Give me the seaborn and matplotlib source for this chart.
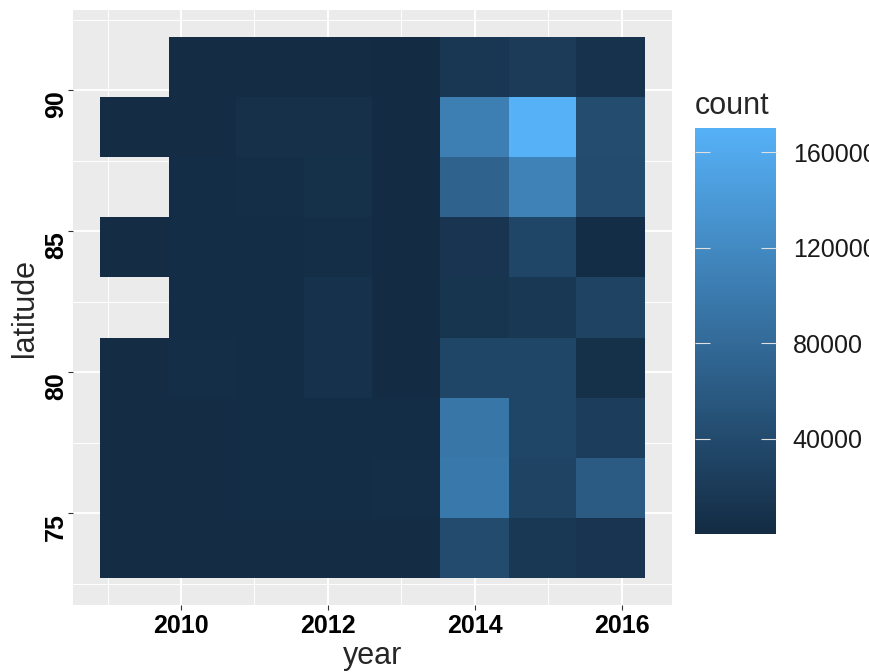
import numpy as np
import pandas as pd
import matplotlib
matplotlib.use("Agg")
import matplotlib.pyplot as plt
import seaborn as sns
from matplotlib.colors import LinearSegmentedColormap

# bin edges (8 year bins x 9 latitude bins)
year_edges = [2008.90, 2009.83, 2010.75, 2011.68, 2012.60, 2013.53, 2014.46, 2015.38, 2016.31]
lat_edges = [72.70, 74.83, 76.96, 79.09, 81.22, 83.36, 85.49, 87.62, 89.75, 91.88]

# counts per cell, rows from top (north) to bottom, columns 2009 -> 2016 bins
# nan = empty cell
counts = [
    [np.nan, 2500, 1500, 2000, 1000, 14000, 20000, 9000],
    [2000, 2500, 7000, 7000, 1000, 105000, 170000, 42000],
    [np.nan, 3000, 4000, 6000, 1000, 70000, 110000, 40000],
    [2000, 3000, 3000, 3500, 1000, 12000, 34000, 3000],
    [np.nan, 3000, 3000, 8000, 1000, 13000, 16000, 30000],
    [1500, 4000, 3000, 8000, 500, 34000, 34000, 6000],
    [1500, 1500, 3000, 3000, 3000, 95000, 34000, 24000],
    [1500, 1500, 3000, 3000, 4000, 97000, 30000, 61000],
    [1500, 1500, 2000, 2000, 2000, 40000, 16000, 12000],
]

year_ticks = [2010, 2012, 2014, 2016]
lat_ticks = [75, 80, 85, 90]
count_ticks = [40000, 80000, 120000, 160000]

# long table: one row per cell centre
year_mid = [(a + b) / 2 for a, b in zip(year_edges[:-1], year_edges[1:])]
lat_mid = [(a + b) / 2 for a, b in zip(lat_edges[:-1], lat_edges[1:])][::-1]
rows = []
for i, lat in enumerate(lat_mid):
    for j, yr in enumerate(year_mid):
        if not np.isnan(counts[i][j]):
            rows.append({"year": yr, "latitude": lat, "count": counts[i][j]})
df = pd.DataFrame(rows)

sns.set_theme(style="darkgrid", rc={"axes.facecolor": "#EBEBEB",
                                    "grid.color": "white"})
plt.rcParams["font.family"] = ["Liberation Sans", "DejaVu Sans"]

gg_blue = LinearSegmentedColormap.from_list("gg", ["#132B43", "#56B1F7"])

fig = plt.figure(figsize=(8.69, 6.72), dpi=100)
ax = fig.add_axes([0.084, 0.0997, 0.689, 0.885])
cax = fig.add_axes([0.80, 0.205, 0.093, 0.604])

sns.histplot(data=df, x="year", y="latitude", weights="count",
             bins=[year_edges, lat_edges], cmap=gg_blue,
             cbar=True, cbar_ax=cax, ax=ax, linewidth=0)

# ggplot-like 5% expansion
xr = year_edges[-1] - year_edges[0]
yr_ = lat_edges[-1] - lat_edges[0]
ax.set_xlim(year_edges[0] - 0.05 * xr, year_edges[-1] + 0.05 * xr)
ax.set_ylim(lat_edges[0] - 0.05 * yr_, lat_edges[-1] + 0.05 * yr_)

ax.set_xticks(year_ticks)
ax.set_yticks(lat_ticks)
ax.set_xticks([2009, 2011, 2013, 2015], minor=True)
ax.set_yticks([72.5, 77.5, 82.5, 87.5, 92.5], minor=True)
ax.grid(which="major", color="white", linewidth=1.4)
ax.grid(which="minor", color="white", linewidth=0.7)
ax.set_axisbelow(True)
for s in ax.spines.values():
    s.set_visible(False)

ax.tick_params(which="major", direction="out", length=3.5, width=0.8,
               color="#333333", bottom=True, left=True, pad=3)
ax.tick_params(axis="y", which="major", pad=0)
ax.tick_params(which="minor", length=0)
for lab in ax.get_xticklabels():
    lab.set_fontweight("bold")
    lab.set_fontsize(18)
    lab.set_color("black")
for lab in ax.get_yticklabels():
    lab.set_fontweight("bold")
    lab.set_fontsize(18)
    lab.set_color("black")
    lab.set_rotation(90)
    lab.set_va("top")

ax.set_xlabel("year", fontsize=22, labelpad=2)
ax.set_ylabel("latitude", fontsize=22, labelpad=3)

cbar = ax.collections[0].colorbar
cbar.outline.set_visible(False)
cbar.set_ticks(count_ticks)
cbar.set_ticklabels([str(t) for t in count_ticks])
cax.grid(False)
cax.set_axisbelow(False)
cax.tick_params(left=True, right=True, labelleft=False, labelright=True,
                direction="in", length=11, width=0.8, color="#E0E0E0",
                labelsize=18, labelcolor="#1a1a1a", pad=12)
cax.set_title("count", loc="left", fontsize=22, pad=10)

fig.savefig("out.png", dpi=100)
